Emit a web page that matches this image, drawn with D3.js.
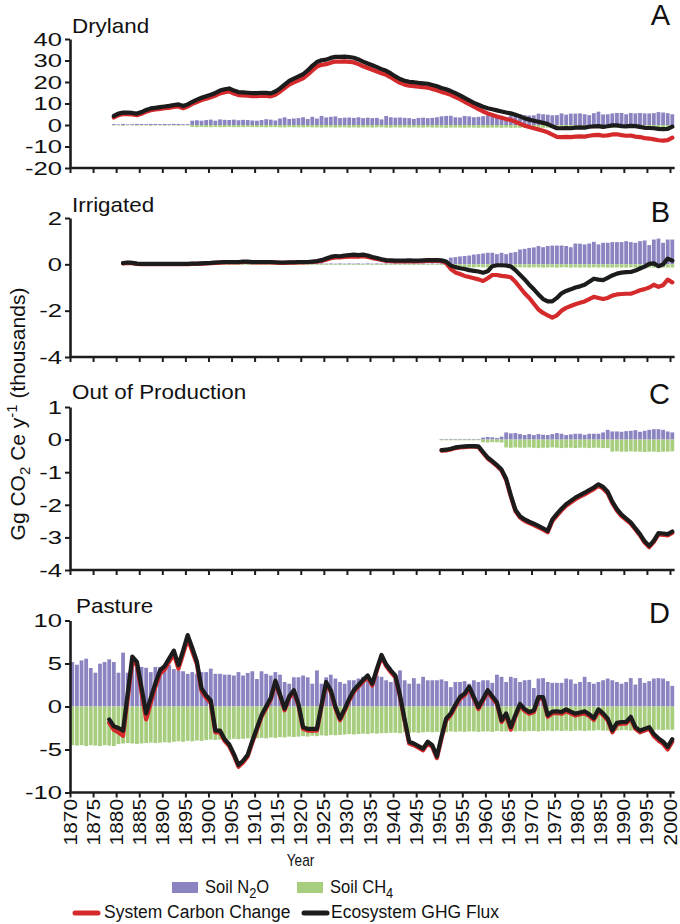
<!DOCTYPE html>
<html><head><meta charset="utf-8">
<script src="https://cdn.jsdelivr.net/npm/d3@7"></script>
<style>
body{margin:0;background:#fff}
text{font-family:"Liberation Sans",Arial,Helvetica,sans-serif;fill:#111}
</style>
</head><body>
<svg id="chart" width="680" height="924"></svg>
<script>
// ---------------- DATA ----------------
const xTicks = [1870,1875,1880,1885,1890,1895,1900,1905,1910,1915,1920,1925,1930,1935,1940,1945,1950,1955,1960,1965,1970,1975,1980,1985,1990,1995,2000];

// Panel A: Dryland (1879-2000)
const drylandStart = 1879;
const drylandTicks = [40,30,20,10,0,-10,-20];
const drylandN2O = [0.4,0.3,0.5,0.3,0.4,0.5,0.5,0.4,0.5,0.5,0.4,0.5,0.4,0.5,0.5,0.4,0.4,
 2.0,2.2,2.0,2.3,2.5,2.0,2.6,2.4,2.3,2.5,
 2.2,2.4,2.3,2.1,2.0,2.3,2.7,2.5,2.1,3.0,
 3.6,2.8,3.0,3.2,3.6,2.8,3.8,3.0,4.2,3.5,
 3.8,4.0,3.2,3.4,3.5,3.3,3.6,3.2,3.4,3.2,
 3.3,2.6,4.2,3.6,3.4,3.5,3.3,3.2,2.8,3.3,
 3.4,3.2,3.3,3.6,4.0,4.2,4.3,3.6,3.5,4.2,
 4.0,3.6,3.8,4.1,4.5,4.0,3.8,4.3,3.6,4.4,
 5.0,5.0,4.6,4.4,4.5,5.3,5.0,4.8,4.5,4.6,
 5.4,4.8,5.3,5.3,5.4,5.0,4.6,5.5,6.2,4.9,
 5.0,5.4,5.6,5.6,5.0,5.6,5.4,5.6,5.4,5.4,
 5.5,6.0,5.8,5.5,5.0];
const drylandCH4 = [-0.2,-0.2,-0.3,-0.2,-0.2,-0.3,-0.2,-0.2,-0.3,-0.2,-0.2,-0.3,-0.2,-0.2,-0.3,-0.2,-0.2,
 -0.9,-1.0,-0.9,-1.0,-1.0,-0.9,-1.0,-1.0,-0.9,-1.0,
 -1.0,-1.0,-0.9,-1.0,-1.0,-1.0,-1.1,-1.0,-1.0,-1.1,
 -1.1,-1.0,-1.1,-1.1,-1.1,-1.0,-1.1,-1.1,-1.2,-1.1,
 -1.1,-1.2,-1.1,-1.1,-1.2,-1.1,-1.2,-1.1,-1.1,-1.2,
 -1.1,-1.1,-1.2,-1.2,-1.1,-1.2,-1.1,-1.2,-1.1,-1.2,
 -1.2,-1.1,-1.2,-1.2,-1.2,-1.3,-1.2,-1.2,-1.2,-1.3,
 -1.2,-1.2,-1.3,-1.2,-1.3,-1.2,-1.2,-1.3,-1.2,-1.3,
 -1.3,-1.3,-1.2,-1.3,-1.3,-1.3,-1.3,-1.2,-1.3,-1.3,
 -1.3,-1.3,-1.3,-1.4,-1.3,-1.3,-1.3,-1.4,-1.3,-1.3,
 -1.3,-1.4,-1.3,-1.3,-1.4,-1.3,-1.4,-1.3,-1.3,-1.4,
 -1.3,-1.4,-1.3,-1.3,-1.4];
const drylandCarbon = [3.5,4.6,5.1,5.1,4.9,4.6,5.2,6.2,6.9,7.2,
 7.5,7.8,8.0,8.4,8.6,7.8,8.6,9.8,10.7,11.6,
 12.2,12.9,13.7,14.7,15.3,15.6,14.6,13.9,13.8,13.6,
 13.4,13.4,13.6,13.5,13.3,14.1,15.5,17.2,18.8,19.8,
 20.8,21.7,23.4,25.4,27.2,28.0,28.3,29.0,29.5,29.5,
 29.6,29.4,29.1,28.3,27.3,26.5,25.7,24.9,24.1,23.3,
 22.2,20.8,19.6,18.8,18.3,18.1,17.8,17.6,17.4,16.8,
 16.2,15.4,14.8,14.0,13.0,12.0,10.8,9.7,8.5,7.4,
 6.3,5.4,4.7,4.0,3.4,2.8,2.3,1.5,0.6,-0.3,
 -0.9,-1.5,-2.1,-2.7,-3.4,-4.5,-5.5,-5.6,-5.5,-5.6,
 -5.4,-5.3,-5.4,-5.0,-4.7,-4.6,-5.0,-4.8,-4.4,-4.3,
 -4.7,-5.0,-4.9,-5.4,-5.6,-6.1,-6.3,-6.7,-7.1,-7.3,
 -7.0,-5.9];
const drylandGHG = [4.2,5.3,5.8,5.8,5.6,5.3,6.0,7.0,7.7,8.0,
 8.3,8.6,8.9,9.3,9.6,8.8,9.6,10.8,11.8,12.7,
 13.4,14.1,14.9,16.0,16.6,17.0,16.0,15.3,15.2,15.0,
 14.8,14.8,15.0,14.9,14.7,15.6,17.0,18.8,20.5,21.6,
 22.6,23.6,25.4,27.5,29.3,30.1,30.4,31.2,31.7,31.7,
 31.8,31.6,31.3,30.5,29.5,28.6,27.8,26.9,26.0,25.2,
 24.0,22.6,21.4,20.6,20.1,19.9,19.6,19.4,19.2,18.6,
 18.0,17.2,16.6,15.8,14.8,13.8,12.6,11.5,10.3,9.4,
 8.5,7.8,7.3,6.8,6.3,5.8,5.4,4.8,4.0,3.1,
 2.5,2.0,1.5,1.0,0.4,-0.6,-1.5,-1.5,-1.4,-1.5,
 -1.2,-1.1,-1.2,-0.8,-0.6,-0.5,-0.9,-0.6,-0.2,-0.2,
 -0.5,-0.6,-0.4,-0.5,-0.9,-1.3,-1.4,-1.5,-1.8,-1.9,
 -1.8,-0.8];

// Panel B: Irrigated (1881-2000), thousands
const irrigatedStart = 1881;
const irrigatedTicks = [2,0,-2,-4];
const irrigatedN2O = [0.03,0.04,0.03,0.04,0.03,0.04,0.03,0.04,0.03,0.04,
 0.03,0.04,0.03,0.04,0.03,0.04,0.03,0.04,0.03,0.04,
 0.03,0.04,0.03,0.04,0.03,0.04,0.03,0.04,0.03,0.04,
 0.03,0.04,0.03,0.04,0.03,0.04,0.03,0.04,0.03,0.04,
 0.03,0.04,0.03,0.04,0.03,0.04,0.03,0.04,0.03,0.04,
 0.03,0.04,0.03,0.04,0.03,0.04,0.03,0.04,0.03,0.04,
 0.03,0.04,0.03,0.04,0.03,0.04,0.03,0.04,0.03,0.04,
 0.04,
 0.29,0.31,0.34,0.36,0.38,0.42,0.44,0.47,0.5,
 0.5,0.44,0.5,0.44,0.5,0.53,0.64,0.67,0.71,0.73,
 0.79,0.74,0.79,0.81,0.81,0.81,0.79,0.74,0.9,0.89,
 0.86,0.9,0.97,0.86,0.93,0.93,0.96,0.96,0.96,1.0,
 0.96,0.93,1.0,1.03,0.83,1.07,1.11,0.93,1.07,1.07];
const irrigatedCH4 = [-0.03,-0.03,-0.03,-0.03,-0.03,-0.03,-0.03,-0.03,-0.03,-0.03,
 -0.03,-0.03,-0.03,-0.03,-0.03,-0.03,-0.03,-0.03,-0.03,-0.03,
 -0.03,-0.03,-0.03,-0.03,-0.03,-0.03,-0.03,-0.03,-0.03,-0.03,
 -0.03,-0.03,-0.03,-0.03,-0.03,-0.03,-0.03,-0.03,-0.03,-0.03,
 -0.03,-0.03,-0.03,-0.03,-0.03,-0.03,-0.03,-0.03,-0.03,-0.03,
 -0.03,-0.03,-0.03,-0.03,-0.03,-0.03,-0.03,-0.03,-0.03,-0.03,
 -0.03,-0.03,-0.03,-0.03,-0.03,-0.03,-0.03,-0.03,-0.03,-0.03,
 -0.03,
 -0.12,-0.12,-0.13,-0.12,-0.13,-0.13,-0.12,-0.13,-0.13,
 -0.13,-0.12,-0.13,-0.13,-0.13,-0.14,-0.13,-0.13,-0.14,-0.13,
 -0.13,-0.14,-0.13,-0.13,-0.14,-0.13,-0.13,-0.14,-0.13,-0.14,
 -0.13,-0.14,-0.13,-0.14,-0.13,-0.14,-0.14,-0.13,-0.14,-0.14,
 -0.13,-0.14,-0.14,-0.13,-0.14,-0.14,-0.13,-0.14,-0.14,-0.14];
const irrigatedCarbon = [0.04,0.06,0.05,0.02,0.01,0.01,0.01,0.01,0.01,0.01,
 0.01,0.01,0.01,0.01,0.01,0.02,0.02,0.03,0.04,0.05,
 0.06,0.07,0.08,0.08,0.08,0.08,0.1,0.1,0.08,0.08,
 0.08,0.08,0.08,0.07,0.06,0.06,0.07,0.07,0.08,0.08,
 0.09,0.1,0.12,0.15,0.2,0.26,0.3,0.3,0.32,0.33,
 0.34,0.33,0.35,0.32,0.27,0.23,0.19,0.15,0.14,0.13,
 0.13,0.13,0.14,0.13,0.13,0.14,0.15,0.15,0.15,0.14,
 0.05,-0.2,-0.35,-0.42,-0.5,-0.55,-0.6,-0.65,-0.72,-0.6,
 -0.46,-0.46,-0.5,-0.52,-0.56,-0.75,-1.0,-1.25,-1.45,-1.7,
 -1.95,-2.1,-2.2,-2.3,-2.2,-2.0,-1.88,-1.8,-1.72,-1.66,
 -1.6,-1.5,-1.4,-1.45,-1.5,-1.45,-1.35,-1.3,-1.28,-1.27,
 -1.27,-1.2,-1.12,-1.07,-1.0,-0.88,-0.97,-0.9,-0.66,-0.78];
const irrigatedGHG = [0.05,0.08,0.06,0.03,0.02,0.02,0.02,0.02,0.02,0.02,
 0.02,0.02,0.02,0.02,0.02,0.03,0.03,0.04,0.05,0.06,
 0.08,0.09,0.1,0.1,0.1,0.1,0.12,0.12,0.1,0.1,
 0.1,0.1,0.1,0.09,0.08,0.08,0.09,0.09,0.1,0.1,
 0.1,0.12,0.14,0.18,0.25,0.32,0.36,0.35,0.38,0.4,
 0.42,0.4,0.42,0.38,0.32,0.27,0.22,0.18,0.17,0.16,
 0.16,0.16,0.17,0.16,0.16,0.17,0.18,0.18,0.18,0.17,
 0.12,-0.05,-0.12,-0.17,-0.2,-0.25,-0.28,-0.31,-0.36,-0.3,
 -0.08,-0.04,-0.04,-0.05,-0.09,-0.25,-0.45,-0.65,-0.88,-1.08,
 -1.3,-1.5,-1.6,-1.6,-1.45,-1.25,-1.15,-1.08,-1.0,-0.95,
 -0.88,-0.75,-0.62,-0.66,-0.68,-0.58,-0.48,-0.4,-0.36,-0.34,
 -0.33,-0.27,-0.18,-0.1,0.02,0.04,-0.08,0.0,0.25,0.16];

// Panel C: Out of Production (1950-2000), thousands
const outStart = 1950;
const outTicks = [1,0,-1,-2,-3,-4];
const outN2O = [0.02,0.02,0.02,0.02,0.02,0.02,0.02,0.02,0.02,
 0.06,0.08,0.07,0.05,0.09,
 0.22,0.19,0.2,0.17,0.14,0.17,0.14,0.17,0.15,0.14,0.17,0.2,0.18,0.14,0.16,0.18,0.18,0.15,0.18,0.18,0.18,0.22,0.3,
 0.25,0.25,0.24,0.26,0.27,0.29,0.24,0.27,0.3,0.32,0.32,0.3,0.25,0.22];
const outCH4 = [-0.02,-0.02,-0.02,-0.02,-0.02,-0.02,-0.02,-0.02,-0.02,
 -0.08,-0.09,-0.08,-0.08,-0.09,
 -0.24,-0.25,-0.24,-0.25,-0.25,-0.24,-0.25,-0.26,-0.25,-0.25,-0.24,-0.25,-0.26,-0.25,-0.25,-0.26,-0.25,-0.25,-0.26,-0.25,-0.25,-0.26,-0.26,
 -0.37,-0.36,-0.37,-0.37,-0.36,-0.37,-0.37,-0.38,-0.37,-0.37,-0.38,-0.37,-0.37,-0.36];
const outCarbon = [-0.34,-0.33,-0.3,-0.26,-0.24,-0.23,-0.22,-0.22,-0.23,-0.41,
 -0.58,-0.69,-0.81,-0.95,-1.24,-1.74,-2.19,-2.39,-2.49,-2.56,
 -2.62,-2.69,-2.76,-2.84,-2.5,-2.33,-2.17,-2.03,-1.93,-1.83,
 -1.75,-1.68,-1.6,-1.52,-1.42,-1.5,-1.65,-1.95,-2.18,-2.35,
 -2.46,-2.58,-2.76,-2.94,-3.16,-3.3,-3.14,-2.91,-2.92,-2.94,
 -2.86];
const outGHG = [-0.32,-0.31,-0.28,-0.24,-0.22,-0.21,-0.2,-0.2,-0.21,-0.38,
 -0.55,-0.66,-0.78,-0.92,-1.2,-1.7,-2.15,-2.35,-2.45,-2.52,
 -2.58,-2.65,-2.72,-2.8,-2.45,-2.28,-2.12,-1.98,-1.88,-1.78,
 -1.7,-1.63,-1.55,-1.47,-1.37,-1.45,-1.6,-1.9,-2.13,-2.3,
 -2.42,-2.54,-2.72,-2.9,-3.12,-3.26,-3.1,-2.87,-2.88,-2.9,
 -2.82];

// Panel D: Pasture (bars 1870-2000, lines 1878-2000)
const pastureBarStart = 1870;
const pastureLineStart = 1878;
const pastureTicks = [10,5,0,-5,-10];
const pastureN2O = [5.17,4.86,5.36,5.56,4.48,3.93,4.98,5.17,5.48,5.17,
 3.93,6.26,3.93,5.0,5.1,4.6,4.5,4.0,4.6,4.6,
 4.4,4.8,4.35,4.2,4.1,3.8,4.0,3.8,4.0,4.0,
 4.4,3.8,3.8,3.7,3.7,3.6,4.0,3.6,3.9,4.1,
 3.2,4.1,3.8,3.6,4.0,3.7,2.85,2.65,3.4,3.4,
 3.6,3.4,2.65,4.2,2.65,3.4,3.7,3.25,2.85,2.65,
 3.05,3.05,3.25,3.45,3.8,3.05,3.6,3.45,3.05,2.85,
 3.25,4.2,3.05,2.65,3.3,2.65,3.45,3.05,3.05,3.05,
 3.15,2.95,2.25,2.85,2.85,2.95,2.65,3.05,2.85,3.05,
 3.05,2.75,3.7,3.45,2.85,3.45,3.3,2.85,3.05,3.1,
 2.15,3.25,3.3,2.85,2.75,2.75,2.75,3.25,3.15,2.65,
 2.85,3.45,2.85,2.65,2.85,3.05,3.25,3.05,2.85,2.65,
 2.85,3.3,2.55,3.3,2.75,2.95,3.25,3.3,3.25,2.95,
 2.4];
const pastureCH4 = [-4.5,-4.55,-4.5,-4.6,-4.5,-4.55,-4.6,-4.5,-4.55,-4.6,
 -4.35,-4.3,-4.25,-4.3,-4.35,-4.3,-4.25,-4.2,-4.25,-4.2,
 -4.15,-4.2,-4.1,-4.05,-4.1,-4.0,-4.05,-3.95,-4.0,-3.9,
 -3.85,-3.9,-3.85,-3.8,-3.85,-3.75,-3.8,-3.75,-3.7,-3.75,
 -3.7,-3.65,-3.7,-3.6,-3.65,-3.55,-3.6,-3.5,-3.55,-3.5,
 -3.45,-3.5,-3.4,-3.45,-3.35,-3.4,-3.3,-3.35,-3.3,-3.25,
 -3.2,-3.25,-3.2,-3.15,-3.2,-3.1,-3.15,-3.1,-3.1,-3.05,
 -3.05,-3.1,-3.0,-3.05,-3.0,-3.05,-3.0,-2.95,-3.0,-2.95,
 -2.95,-3.0,-2.9,-2.95,-2.9,-2.95,-2.9,-2.9,-2.95,-2.9,
 -2.9,-2.95,-2.85,-2.9,-2.9,-2.85,-2.9,-2.85,-2.9,-2.85,
 -2.85,-2.9,-2.85,-2.8,-2.85,-2.8,-2.85,-2.8,-2.85,-2.8,
 -2.8,-2.85,-2.8,-2.8,-2.75,-2.8,-2.8,-2.75,-2.8,-2.75,
 -2.75,-2.8,-2.75,-2.8,-2.75,-2.7,-2.75,-2.7,-2.75,-2.7,
 -2.7];
const pastureCarbon = [-1.9,-2.7,-3.0,-3.4,1.0,5.3,4.8,1.6,-1.5,0.4,
 2.3,3.8,4.3,5.2,6.1,4.4,6.1,7.9,6.4,4.9,
 1.8,1.0,0.4,-3.0,-3.0,-4.0,-4.6,-5.7,-7.0,-6.5,
 -5.8,-4.2,-2.7,-1.2,-0.2,0.8,2.8,1.2,-0.45,1.0,
 1.7,0.1,-2.6,-2.8,-2.8,-2.8,0.0,2.65,1.7,-0.2,
 -1.6,-0.5,0.7,1.7,2.3,2.9,3.4,2.45,4.2,5.8,
 4.7,4.0,3.4,1.1,-1.7,-4.3,-4.5,-4.8,-5.1,-4.3,
 -4.7,-6.0,-3.7,-1.6,-1.0,0.0,0.9,1.3,2.1,0.9,
 -0.3,0.7,1.7,1.0,0.3,-1.8,-1.0,-2.7,-1.2,0.1,
 -0.5,-0.85,-0.65,0.9,0.9,-1.2,-0.8,-0.75,-0.85,-0.55,
 -0.8,-1.05,-0.9,-0.8,-1.1,-1.55,-0.55,-1.0,-1.6,-3.0,
 -2.1,-2.0,-2.0,-1.4,-2.6,-3.0,-2.8,-2.6,-3.45,-3.95,
 -4.35,-5.0,-4.1];
const pastureGHG = [-1.5,-2.3,-2.5,-2.8,1.5,5.8,5.2,2.2,-0.8,1.0,
 2.7,4.2,4.7,5.6,6.5,4.8,6.5,8.3,6.8,5.2,
 2.1,1.3,0.7,-2.8,-2.8,-3.8,-4.4,-5.5,-6.8,-6.3,
 -5.6,-4.0,-2.5,-1.0,0.0,1.0,3.0,1.4,-0.25,1.2,
 1.9,0.3,-2.4,-2.6,-2.6,-2.6,0.2,2.85,1.9,0.0,
 -1.4,-0.3,0.9,1.9,2.5,3.1,3.6,2.65,4.4,6.0,
 4.9,4.2,3.6,1.3,-1.5,-4.1,-4.3,-4.6,-4.9,-4.1,
 -4.5,-5.8,-3.5,-1.4,-0.8,0.2,1.1,1.5,2.3,1.1,
 -0.06,0.9,1.9,1.2,0.5,-1.6,-0.8,-2.4,-1.0,0.3,
 -0.3,-0.64,-0.45,1.1,1.1,-1.0,-0.6,-0.55,-0.64,-0.33,
 -0.6,-0.83,-0.7,-0.56,-0.9,-1.34,-0.33,-0.8,-1.4,-2.77,
 -1.9,-1.8,-1.8,-1.2,-2.4,-2.8,-2.6,-2.4,-3.2,-3.7,
 -4.1,-4.7,-3.8];

// ---------------- STYLE ----------------
const C_N2O = "#8a84c0", C_CH4 = "#a7cd7f", C_RED = "#d42a2c", C_BLACK = "#1c1c1c";

const panels = [
  {title:"Dryland", letter:"A", barStart:drylandStart, lineStart:drylandStart, n2o:drylandN2O, ch4:drylandCH4, carbon:drylandCarbon, ghg:drylandGHG,
   domain:[-20,40], range:[168,39], ticks:drylandTicks, titleX:72, titleY:33, letterY:25},
  {title:"Irrigated", letter:"B", barStart:irrigatedStart, lineStart:irrigatedStart, n2o:irrigatedN2O, ch4:irrigatedCH4, carbon:irrigatedCarbon, ghg:irrigatedGHG,
   domain:[-4,2], range:[357,218], ticks:irrigatedTicks, titleX:72, titleY:212, letterY:222},
  {title:"Out of Production", letter:"C", barStart:outStart, lineStart:outStart, n2o:outN2O, ch4:outCH4, carbon:outCarbon, ghg:outGHG,
   domain:[-4,1], range:[570,407], ticks:outTicks, titleX:72, titleY:399, letterY:404},
  {title:"Pasture", letter:"D", barStart:pastureBarStart, lineStart:pastureLineStart, n2o:pastureN2O, ch4:pastureCH4, carbon:pastureCarbon, ghg:pastureGHG,
   domain:[-10,10], range:[792.5,620.5], ticks:pastureTicks, titleX:76, titleY:613, letterY:623, xLabels:true}
];

const svg = d3.select("#chart");
const x = d3.scaleLinear().domain([1870, 2000]).range([70, 670]);
const bandW = x(1871) - x(1870);
const barW = bandW * 0.82;

function stretchedText(g, tx, ty, str, size, sx, anchor, rot) {
  return g.append("text")
    .attr("transform", `translate(${tx},${ty})` + (rot ? ` rotate(${rot})` : "") + ` scale(${sx},1)`)
    .attr("text-anchor", anchor)
    .style("font-size", size + "px")
    .text(str);
}

panels.forEach(p => {
  const y = d3.scaleLinear().domain(p.domain).range(p.range);
  const g = svg.append("g");

  // bars
  g.append("g").selectAll("rect").data(p.n2o).join("rect")
    .attr("x", (d,i) => x(p.barStart + i) + (bandW - barW)/2)
    .attr("width", barW)
    .attr("y", d => y(Math.max(0, d)))
    .attr("height", d => Math.abs(y(d) - y(0)))
    .attr("fill", C_N2O);
  g.append("g").selectAll("rect").data(p.ch4).join("rect")
    .attr("x", (d,i) => x(p.barStart + i) + (bandW - barW)/2)
    .attr("width", barW)
    .attr("y", d => y(Math.max(0, d)))
    .attr("height", d => Math.abs(y(d) - y(0)))
    .attr("fill", C_CH4);

  const line = d3.line().x((d,i) => x(p.lineStart + i + 0.5)).y(d => y(d));
  g.append("path").datum(p.carbon).attr("d", line)
    .attr("fill","none").attr("stroke", C_RED).attr("stroke-width", 4.2)
    .attr("stroke-linejoin","round").attr("stroke-linecap","round");
  g.append("path").datum(p.ghg).attr("d", line)
    .attr("fill","none").attr("stroke", C_BLACK).attr("stroke-width", 4.2)
    .attr("stroke-linejoin","round").attr("stroke-linecap","round");

  // axes
  const yAxis = g.append("g").attr("transform","translate(70,0)")
    .call(d3.axisLeft(y).tickValues(p.ticks).tickSize(5).tickSizeOuter(0).tickFormat(""));
  const xAxis = g.append("g").attr("transform",`translate(0,${p.range[0]})`)
    .call(d3.axisBottom(x).tickValues(xTicks).tickSize(5).tickSizeOuter(0).tickFormat(""));
  xAxis.select(".domain").attr("d", `M70,0H${x(2001)}`);
  [yAxis, xAxis].forEach(a => {
    a.select(".domain").attr("stroke", C_BLACK).attr("stroke-width", 2.6);
    a.selectAll(".tick line").attr("stroke", C_BLACK).attr("stroke-width", 2);
  });

  // y tick labels
  p.ticks.forEach(t => {
    stretchedText(g, 62, y(t) + 6.8, String(t), 19, 1.35, "end");
  });

  // titles
  stretchedText(g, p.titleX, p.titleY, p.title, 20, 1.12, "start");
  stretchedText(g, 670, p.letterY, p.letter, 29, 1.0, "end");

  if (p.xLabels) {
    xTicks.forEach(t => {
      stretchedText(g, x(t) + 6.5, 799, String(t), 18, 1.16, "end", -90);
    });
  }
});

// Y-axis title
const yt = svg.append("text")
  .attr("transform","translate(25,414) rotate(-90)")
  .attr("text-anchor","middle")
  .style("font-size","21px");
yt.append("tspan").text("Gg CO");
yt.append("tspan").attr("dy", 5).style("font-size","15px").text("2");
yt.append("tspan").attr("dy", -5).text(" Ce y");
yt.append("tspan").attr("dy", -8).style("font-size","15px").text("-1");
yt.append("tspan").attr("dy", 8).text(" (thousands)");

// X-axis title
stretchedText(svg, 300.5, 866, "Year", 16, 0.85, "middle");

// Legend
const lg = svg.append("g");
lg.append("rect").attr("x",172).attr("y",882).attr("width",26).attr("height",11).attr("fill",C_N2O);
lg.append("rect").attr("x",297).attr("y",882).attr("width",26).attr("height",11).attr("fill",C_CH4);
const t1 = lg.append("text").attr("transform","translate(205,893) scale(0.92,1)").style("font-size","18px");
t1.append("tspan").text("Soil N");
t1.append("tspan").attr("dy",5).style("font-size","14px").text("2");
t1.append("tspan").attr("dy",-5).text("O");
const t2 = lg.append("text").attr("transform","translate(330,893) scale(0.92,1)").style("font-size","18px");
t2.append("tspan").text("Soil CH");
t2.append("tspan").attr("dy",5).style("font-size","14px").text("4");

lg.append("line").attr("x1",75).attr("x2",98).attr("y1",913).attr("y2",913)
  .attr("stroke",C_RED).attr("stroke-width",5).attr("stroke-linecap","round");
lg.append("line").attr("x1",304).attr("x2",327).attr("y1",913).attr("y2",913)
  .attr("stroke",C_BLACK).attr("stroke-width",5).attr("stroke-linecap","round");
lg.append("text").attr("transform","translate(104,918) scale(0.92,1)").style("font-size","19px").text("System Carbon Change");
lg.append("text").attr("transform","translate(331,918) scale(0.92,1)").style("font-size","19px").text("Ecosystem GHG Flux");
</script>
</body></html>
